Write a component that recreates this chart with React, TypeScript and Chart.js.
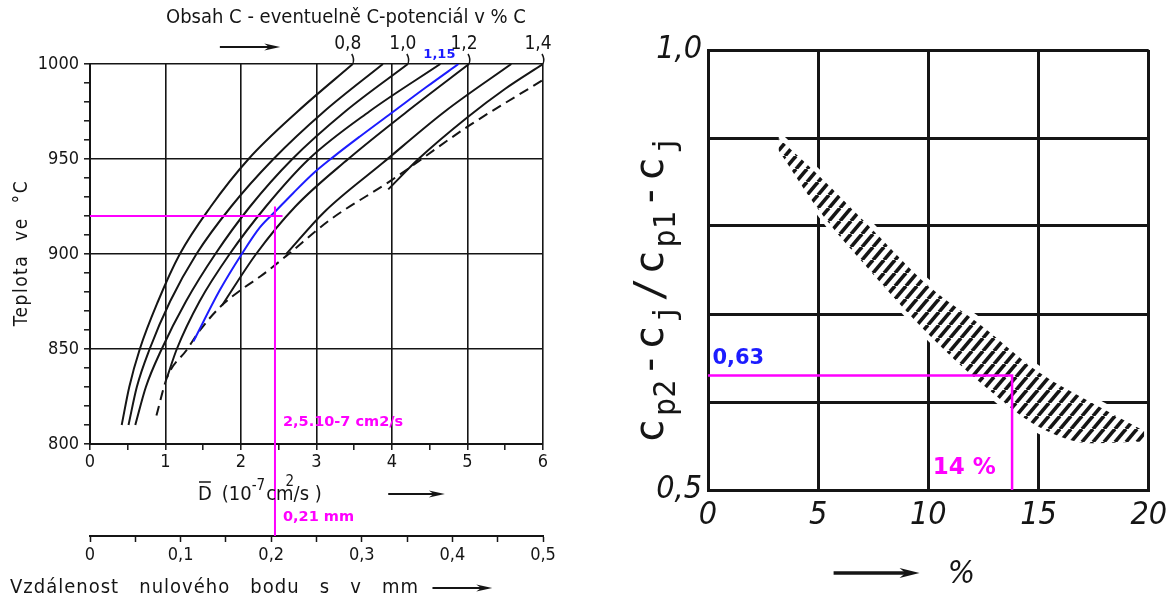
import React, { useEffect, useRef } from "react";
import { Chart, registerables } from "chart.js";

Chart.register(...registerables);

const FONT = "'DejaVu Sans Condensed', 'DejaVu Sans', sans-serif";
const BOLD = "'DejaVu Sans', sans-serif";
const MONO = "'DejaVu Sans Mono', monospace";
const INK = "#151515";
const MAGENTA = "#ff00ff";
const BLUE = "#1c1cff";

// ---------------- Left chart: diffusion coefficient vs temperature ----------------
const dMin = 0;
const dMax = 6;
const dStep = 0.5;
const tMin = 800;
const tMax = 1000;
const tStep = 10;
const sMin = 0;
const sMax = 0.5;
const sStep = 0.05;

const topTitle = "Obsah C - eventuelně C-potenciál v % C";
const yTitleLeft = "Teplota  ve  °C";
const bottomTitle = "Vzdálenost   nulového   bodu   s   v   mm";

// [D (10^-7 cm2/s), temperature °C]
const curve08: [number, number][] = [[0.42, 810], [0.52, 830], [0.66, 850], [0.9, 875], [1.19, 900], [1.6, 925], [2.1, 950], [2.75, 975], [3.48, 1000]];
const curve09: [number, number][] = [[0.51, 810], [0.62, 830], [0.79, 850], [1.06, 875], [1.41, 900], [1.87, 925], [2.43, 950], [3.1, 975], [3.88, 1000]];
const curve10: [number, number][] = [[0.6, 810], [0.74, 830], [0.95, 850], [1.27, 875], [1.66, 900], [2.12, 925], [2.68, 950], [3.38, 975], [4.21, 1000]];
const curve11: [number, number][] = [[1.02, 835], [1.15, 850], [1.45, 875], [1.85, 900], [2.33, 925], [2.9, 950], [3.7, 975], [4.64, 1000]];
const curve115: [number, number][] = [[1.37, 854], [1.72, 881], [2.01, 900], [2.25, 914], [2.47, 923], [2.69, 932], [2.96, 942.5], [3.22, 951], [3.58, 962], [4.02, 975], [4.46, 988], [4.88, 1000]];
const curve12: [number, number][] = [[1.75, 873], [2.2, 900], [2.72, 925], [3.42, 950], [4.2, 975], [5.02, 1000]];
const curve13: [number, number][] = [[2.6, 900], [3.1, 922], [3.88, 948], [4.7, 975], [5.58, 1000]];
const curve14: [number, number][] = [[3.95, 934], [4.35, 950], [5.0, 972], [5.5, 987], [6.0, 1000]];
const saturation: [number, number][] = [[0.88, 815], [1.02, 835], [1.28, 849.5], [1.46, 860], [1.72, 872], [2.03, 882], [2.25, 888], [2.6, 899], [3.18, 918], [4.0, 939], [5.0, 967], [6.0, 991.6]];

const curveLabels = [
  { text: "0,8", d: 3.48 },
  { text: "1,0", d: 4.21 },
  { text: "1,2", d: 5.02 },
  { text: "1,4", d: 6.0 },
];
const blueLabel = { text: "1,15", d: 4.88 };

const markerT = 920;
const markerD = 2.45;
const markerDText = "2,5.10-7 cm2/s";
const markerSText = "0,21 mm";

const leftSeries = [
  { points: curve08, color: INK, dash: [] as number[], width: 2 },
  { points: curve09, color: INK, dash: [] as number[], width: 2 },
  { points: curve10, color: INK, dash: [] as number[], width: 2 },
  { points: curve11, color: INK, dash: [] as number[], width: 2 },
  { points: curve115, color: BLUE, dash: [] as number[], width: 2 },
  { points: curve12, color: INK, dash: [] as number[], width: 2 },
  { points: curve13, color: INK, dash: [] as number[], width: 2 },
  { points: curve14, color: INK, dash: [] as number[], width: 2 },
  { points: saturation, color: INK, dash: [10, 6], width: 2 },
];

// ---------------- Right chart: ratio vs % ----------------
const pctMin = 0;
const pctMax = 20;
const pctStep = 5;
const ratioMin = 0.5;
const ratioMax = 1.0;
const ratioStep = 0.1;

const bandX = [3.2, 5, 7.5, 10, 12.5, 15, 17.5, 19.8];
const bandUpper = [0.9, 0.858, 0.795, 0.732, 0.685, 0.634, 0.598, 0.567];
const bandLower = [0.886, 0.819, 0.745, 0.677, 0.619, 0.572, 0.553, 0.555];
const clearance = 0.008;

const markerPct = 13.8;
const markerRatio = 0.63;
const markerRatioText = "0,63";
const markerPctText = "14 %";

const toXY = (pts: [number, number][]) => pts.map(([x, y]) => ({ x, y }));

function drawArrow(ctx: CanvasRenderingContext2D, x1: number, y: number, x2: number, lw: number, headLen: number, headHalf: number) {
  ctx.save();
  ctx.lineWidth = lw;
  ctx.beginPath();
  ctx.moveTo(x1, y);
  ctx.lineTo(x2 - headLen * 0.5, y);
  ctx.stroke();
  ctx.beginPath();
  ctx.moveTo(x2, y);
  ctx.lineTo(x2 - headLen, y - headHalf);
  ctx.lineTo(x2 - headLen * 0.7, y);
  ctx.lineTo(x2 - headLen, y + headHalf);
  ctx.closePath();
  ctx.fill();
  ctx.restore();
}

const leftDecor = {
  id: "leftDecor",
  afterDraw(chart: any) {
    const { ctx, chartArea: ca, scales } = chart;
    const xs = scales.x;
    const ys = scales.y;
    const x2 = scales.x2;
    ctx.save();
    ctx.fillStyle = INK;
    ctx.strokeStyle = INK;
    ctx.lineWidth = 1.5;

    // top title and arrow
    ctx.font = `20px ${FONT}`;
    ctx.textAlign = "center";
    ctx.textBaseline = "middle";
    ctx.fillText(topTitle, xs.getPixelForValue(3.39), 18);
    drawArrow(ctx, xs.getPixelForValue(1.72), ca.top - 17, xs.getPixelForValue(2.52), 2, 16, 3.5);

    // curve labels with leaders
    ctx.font = `19px ${FONT}`;
    for (const l of curveLabels) {
      const px = xs.getPixelForValue(l.d);
      ctx.fillText(l.text, px - 5, ca.top - 20);
      ctx.beginPath();
      ctx.moveTo(px - 1, ca.top - 10);
      ctx.quadraticCurveTo(px + 2, ca.top - 5, px, ca.top);
      ctx.stroke();
    }
    ctx.fillStyle = BLUE;
    ctx.font = `bold 13px ${BOLD}`;
    ctx.textAlign = "right";
    ctx.textBaseline = "alphabetic";
    ctx.fillText(blueLabel.text, xs.getPixelForValue(blueLabel.d) - 3, ca.top - 6);

    // magenta reading lines
    ctx.strokeStyle = MAGENTA;
    ctx.lineWidth = 2;
    const my = ys.getPixelForValue(markerT);
    const mx = xs.getPixelForValue(markerD);
    ctx.beginPath();
    ctx.moveTo(xs.getPixelForValue(dMin), my);
    ctx.lineTo(xs.getPixelForValue(markerD + 0.1), my);
    ctx.moveTo(mx, ys.getPixelForValue(markerT + 5));
    ctx.lineTo(mx, x2.top);
    ctx.stroke();
    ctx.fillStyle = MAGENTA;
    ctx.font = `bold 14.5px ${BOLD}`;
    ctx.textAlign = "left";
    ctx.textBaseline = "middle";
    ctx.fillText(markerDText, mx + 8, ys.getPixelForValue(811.5));
    ctx.fillText(markerSText, mx + 8, x2.top - 19);

    // D axis title
    ctx.fillStyle = INK;
    ctx.strokeStyle = INK;
    ctx.lineWidth = 1.5;
    ctx.textAlign = "left";
    ctx.textBaseline = "alphabetic";
    const base = ca.bottom + 56;
    let cx = xs.getPixelForValue(1.43);
    ctx.font = `20px ${FONT}`;
    ctx.fillText("D", cx, base);
    const dW = ctx.measureText("D").width;
    ctx.beginPath();
    ctx.moveTo(cx + 1, base - 18);
    ctx.lineTo(cx + dW - 1, base - 18);
    ctx.stroke();
    cx += dW + 10;
    ctx.fillText("(10", cx, base);
    cx += ctx.measureText("(10").width;
    ctx.font = `15px ${FONT}`;
    ctx.fillText("-7", cx, base - 10);
    cx += ctx.measureText("-7").width + 1;
    ctx.font = `20px ${FONT}`;
    ctx.fillText("cm", cx, base);
    const cmW = ctx.measureText("cm").width;
    ctx.font = `15px ${FONT}`;
    ctx.fillText("2", cx + cmW - 8, base - 14);
    ctx.font = `20px ${FONT}`;
    ctx.fillText("/s )", cx + cmW, base);
    drawArrow(ctx, xs.getPixelForValue(3.95), base - 6, xs.getPixelForValue(4.7), 2, 16, 3.5);

    // second axis title
    ctx.font = `20px ${FONT}`;
    ctx.textAlign = "left";
    ctx.textBaseline = "middle";
    (ctx as any).letterSpacing = "1px";
    ctx.fillText(bottomTitle, 10, x2.top + 52);
    (ctx as any).letterSpacing = "0px";
    drawArrow(ctx, x2.getPixelForValue(0.378), x2.top + 52, x2.getPixelForValue(0.444), 2, 16, 3.5);

    // y title
    ctx.save();
    ctx.translate(22, ys.getPixelForValue(900.5));
    ctx.rotate(-Math.PI / 2);
    ctx.textAlign = "center";
    ctx.textBaseline = "middle";
    ctx.font = `19px ${FONT}`;
    (ctx as any).letterSpacing = "1.5px";
    ctx.fillText(yTitleLeft, 0, 0);
    (ctx as any).letterSpacing = "0px";
    ctx.restore();

    ctx.restore();
  },
};

function LeftChart() {
  const ref = useRef<HTMLCanvasElement>(null);
  useEffect(() => {
    const tickFont = { family: FONT, size: 18 };
    const chart = new Chart(ref.current as HTMLCanvasElement, {
      type: "scatter",
      data: {
        datasets: leftSeries.map((s) => ({
          data: toXY(s.points),
          showLine: true,
          borderColor: s.color,
          borderWidth: s.width,
          borderDash: s.dash,
          pointRadius: 0,
          cubicInterpolationMode: "monotone" as const,
          fill: false,
        })),
      },
      options: {
        responsive: false,
        animation: false,
        events: [],
        layout: { padding: { left: 0, right: 57, top: 64, bottom: 0 } },
        plugins: { legend: { display: false }, tooltip: { enabled: false } },
        scales: {
          x: {
            type: "linear",
            position: "bottom",
            min: dMin,
            max: dMax,
            afterFit: (s: any) => { s.height = 92; },
            ticks: {
              stepSize: dStep,
              autoSkip: false,
              maxRotation: 0,
              padding: 2,
              color: INK,
              font: tickFont,
              callback: (v: any) => (Number.isInteger(v) ? String(v) : ""),
            },
            grid: {
              color: (c: any) => (Number.isInteger(c.tick?.value) ? INK : "rgba(0,0,0,0)"),
              lineWidth: 1.6,
              tickColor: INK,
              tickLength: 6,
              tickWidth: 1.5,
            },
            border: { display: true, color: INK, width: 2 },
          },
          x2: {
            type: "linear",
            position: "bottom",
            min: sMin,
            max: sMax,
            afterFit: (s: any) => { s.height = 66; },
            ticks: {
              stepSize: sStep,
              autoSkip: false,
              maxRotation: 0,
              padding: 3,
              color: INK,
              font: tickFont,
              callback: (v: any) => {
                const k = Math.round(v * 100);
                if (k % 10 !== 0) return "";
                return k === 0 ? "0" : (k / 100).toFixed(1).replace(".", ",");
              },
            },
            grid: { drawOnChartArea: false, tickColor: INK, tickLength: 6, tickWidth: 1.5 },
            border: { display: true, color: INK, width: 2 },
          },
          y: {
            type: "linear",
            min: tMin,
            max: tMax,
            afterFit: (s: any) => { s.width = 90; },
            ticks: {
              stepSize: tStep,
              autoSkip: false,
              padding: 5,
              color: INK,
              font: tickFont,
              callback: (v: any) => (v % 50 === 0 ? String(v) : ""),
            },
            grid: {
              color: (c: any) => (c.tick && c.tick.value % 50 === 0 ? INK : "rgba(0,0,0,0)"),
              lineWidth: 1.6,
              tickColor: INK,
              tickLength: 6,
              tickWidth: 1.5,
            },
            border: { display: true, color: INK, width: 2 },
          },
        },
      } as any,
      plugins: [leftDecor],
    });
    return () => chart.destroy();
  }, []);
  return <canvas ref={ref} width={600} height={602} style={{ position: "absolute", left: 0, top: 0, width: 600, height: 602 }} />;
}

// ---------------- Right chart ----------------
const yTitlePieces = [
  { t: "c", sub: false },
  { t: "p2", sub: true },
  { t: "-", sub: false },
  { t: "c", sub: false },
  { t: "j", sub: true },
  { t: "/", sub: false },
  { t: "c", sub: false },
  { t: "p1", sub: true },
  { t: "-", sub: false },
  { t: "c", sub: false },
  { t: "j", sub: true },
];

const rightDecor = {
  id: "rightDecor",
  afterDraw(chart: any) {
    const { ctx, chartArea: ca, scales } = chart;
    const xs = scales.x;
    const ys = scales.y;
    ctx.save();
    ctx.fillStyle = INK;
    ctx.strokeStyle = INK;

    // y title
    ctx.save();
    ctx.translate(ca.left - 45, ca.bottom - 47);
    ctx.rotate(-Math.PI / 2);
    ctx.textAlign = "left";
    ctx.textBaseline = "alphabetic";
    let lx = 0;
    for (const p of yTitlePieces) {
      ctx.font = p.sub ? `30px ${MONO}` : `40px ${MONO}`;
      // local +y is screen right
      ctx.fillText(p.t, lx, p.sub ? 12 : 0);
      lx += ctx.measureText(p.t).width + 3;
    }
    ctx.restore();

    // x title with arrow
    const ty = ca.bottom + 83;
    drawArrow(ctx, xs.getPixelForValue(5.7), ty, xs.getPixelForValue(9.6), 3.5, 20, 5);
    ctx.font = `italic 32px ${FONT}`;
    ctx.textAlign = "center";
    ctx.textBaseline = "middle";
    ctx.fillText("%", xs.getPixelForValue(11.5), ty + 2);

    // magenta labels
    ctx.textAlign = "left";
    ctx.textBaseline = "alphabetic";
    ctx.font = `bold 21px ${BOLD}`;
    ctx.fillStyle = BLUE;
    ctx.fillText(markerRatioText, xs.getPixelForValue(0.2), ys.getPixelForValue(markerRatio) - 12);
    ctx.font = `bold 23px ${BOLD}`;
    ctx.fillStyle = MAGENTA;
    ctx.fillText(markerPctText, xs.getPixelForValue(10.2), ca.bottom - 16);
    ctx.restore();
  },
};

function makeHatch(): CanvasPattern | string {
  const w = 11;
  const h = 13;
  const tile = document.createElement("canvas");
  tile.width = w;
  tile.height = h;
  const c = tile.getContext("2d");
  if (!c) return INK;
  c.fillStyle = "#ffffff";
  c.fillRect(0, 0, w, h);
  c.strokeStyle = INK;
  c.lineWidth = 3.6;
  c.lineCap = "butt";
  for (const k of [-w, 0, w]) {
    c.beginPath();
    c.moveTo(k, h);
    c.lineTo(k + w, 0);
    c.stroke();
  }
  const pat = c.createPattern(tile, "repeat");
  return pat || INK;
}

function RightChart() {
  const ref = useRef<HTMLCanvasElement>(null);
  useEffect(() => {
    const hatch = makeHatch();
    const upperPts = bandX.map((x, i) => ({ x, y: bandUpper[i] }));
    const lowerPts = bandX.map((x, i) => ({ x, y: bandLower[i] }));
    const clearUpperPts = bandX.map((x, i) => ({ x, y: bandUpper[i] + clearance }));
    const clearLowerPts = bandX.map((x, i) => ({ x, y: bandLower[i] - clearance }));
    const tickFont = { family: FONT, size: 32, style: "italic" as const };
    const bandStyle = { showLine: true, borderWidth: 0, borderColor: "rgba(0,0,0,0)", pointRadius: 0, cubicInterpolationMode: "monotone" as const };
    const chart = new Chart(ref.current as HTMLCanvasElement, {
      type: "scatter",
      data: {
        datasets: [
          { ...bandStyle, data: clearUpperPts, fill: false, order: 3 },
          { ...bandStyle, data: clearLowerPts, fill: "-1", backgroundColor: "#ffffff", order: 3 },
          { ...bandStyle, data: upperPts, fill: false, order: 2 },
          { ...bandStyle, data: lowerPts, fill: "-1", backgroundColor: hatch, order: 2 },
          {
            data: [
              { x: pctMin, y: markerRatio },
              { x: markerPct, y: markerRatio },
              { x: markerPct, y: ratioMin },
            ],
            showLine: true,
            borderColor: MAGENTA,
            borderWidth: 2.5,
            pointRadius: 0,
            fill: false,
            order: 1,
          },
        ],
      },
      options: {
        responsive: false,
        animation: false,
        events: [],
        layout: { padding: { left: 0, right: 23, top: 50, bottom: 0 } },
        plugins: { legend: { display: false }, tooltip: { enabled: false } },
        scales: {
          x: {
            type: "linear",
            min: pctMin,
            max: pctMax,
            afterFit: (s: any) => { s.height = 112; },
            ticks: { stepSize: pctStep, autoSkip: false, maxRotation: 0, padding: 6, color: INK, font: tickFont },
            grid: { color: INK, lineWidth: 3, drawTicks: false },
            border: { display: true, color: INK, width: 3 },
          },
          y: {
            type: "linear",
            min: ratioMin,
            max: ratioMax,
            afterFit: (s: any) => { s.width = 88; },
            ticks: {
              stepSize: ratioStep,
              autoSkip: false,
              padding: 6,
              color: INK,
              font: tickFont,
              callback: (v: any) => {
                if (Math.abs(v - ratioMin) < 1e-6) return "0,5";
                if (Math.abs(v - ratioMax) < 1e-6) return "1,0";
                return "";
              },
            },
            grid: { color: INK, lineWidth: 3, drawTicks: false },
            border: { display: true, color: INK, width: 3 },
          },
        },
      } as any,
      plugins: [rightDecor],
    });
    return () => chart.destroy();
  }, []);
  return <canvas ref={ref} width={553} height={602} style={{ position: "absolute", left: 620, top: 0, width: 553, height: 602 }} />;
}

export default function App() {
  return (
    <div style={{ position: "absolute", left: 0, top: 0, width: 1173, height: 602, background: "#ffffff", overflow: "hidden" }}>
      <LeftChart />
      <RightChart />
    </div>
  );
}
